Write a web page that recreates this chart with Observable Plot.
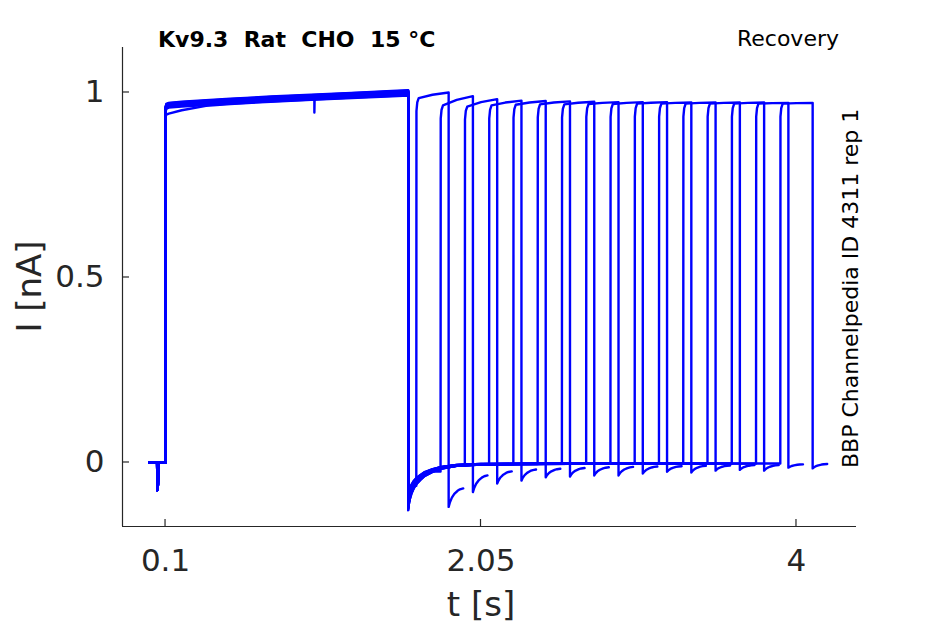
<!DOCTYPE html>
<html>
<head>
<meta charset="utf-8">
<script src="https://cdn.jsdelivr.net/npm/d3@7"></script>
<script src="https://cdn.jsdelivr.net/npm/@observablehq/plot@0.6"></script>
<style>
  html, body { margin: 0; padding: 0; background: #fff; }
  svg { display: block; }
</style>
</head>
<body>
<div id="chart"></div>
<script>
// ---- tick labels ----
const xTicks = [0.1, 2.05, 4];
const xTickLabels = ["0.1", "2.05", "4"];
const yTicks = [0, 0.5, 1];
const yTickLabels = ["0", "0.5", "1"];
const xDomain = [-0.166, 4.371];
const yDomain = [-0.173, 1.1216];

// ---- shared pre-pulse baseline (s, nA) ----
const baseT = [0, 0.048, 0.05, 0.053, 0.056, 0.1];
const baseI = [0, 0, -0.075, -0.06, 0, 0];

// ---- first (conditioning) pulse, 0.1 s to 1.6 s ----
const p1T = [0.1, 0.1, 0.101, 0.105, 0.12, 0.2, 0.35, 0.5, 0.75, 1.0, 1.25, 1.5, 1.6];
const p1I = [0.0, 0.93, 0.955, 0.962, 0.965, 0.968, 0.972, 0.976, 0.982, 0.987, 0.992, 0.997, 0.999];
const p1Offset = [0.006, -0.004, 0.003, 0, -0.006, 0.002, -0.001, 0.007, -0.003, 0.001, 0.004, -0.007, 0, 0.002, -0.002, 0.005];
// one sweep starts lower and joins the others by ~0.3 s
const lowSweep = 11;
const lowT = [0.101, 0.105, 0.12, 0.2, 0.35];
const lowI = [0.935, 0.94, 0.943, 0.952, 0.964];
const p1End = 1.6;
const glitchSweep = 3, glitchT = 1.02, glitchI = 0.946;

// ---- tail after first pulse (dt after 1.6 s) ----
const tail1Dt = [0, 0.004, 0.01, 0.02, 0.035, 0.05, 0.075, 0.1, 0.15, 0.2, 0.3, 0.45, 0.7, 1.0, 2.5];
const tail1I  = [-0.112, -0.098, -0.086, -0.073, -0.06, -0.051, -0.041, -0.032, -0.022, -0.015, -0.008, -0.005, -0.004, -0.003, -0.003];
const tail1Scale = [1.05, 1.1, 0.9, 1.15, 0.85, 1.05, 0.95, 1.1, 0.82, 1.0, 1.1, 0.9, 1.15, 0.85, 1.0, 0.95];

// ---- second (test) pulse per sweep ----
const pulse2Start = [1.65, 1.80, 1.95, 2.10, 2.25, 2.40, 2.55, 2.70, 2.85, 3.00, 3.15, 3.30, 3.45, 3.60, 3.75, 3.90];
const pulse2End   = [1.85, 2.00, 2.15, 2.30, 2.45, 2.60, 2.75, 2.90, 3.05, 3.20, 3.35, 3.50, 3.65, 3.80, 3.95, 4.10];
const pulse2Peak  = [0.985, 0.965, 0.962, 0.965, 0.967, 0.968, 0.968, 0.969, 0.969, 0.970, 0.970, 0.970, 0.970, 0.970, 0.970, 0.970];
const pulse2Final = [1.000, 0.990, 0.982, 0.978, 0.977, 0.976, 0.975, 0.974, 0.974, 0.974, 0.973, 0.973, 0.973, 0.973, 0.972, 0.972];
const p2Dt   = [0.001, 0.006, 0.015, 0.1, 0.2];
const p2Lag  = [-0.035, -0.012, 0, 0, 0];
const p2Frac = [0, 0, 0, 0.6, 1];

// ---- tail after second pulse ----
const tail2Min = [-0.12, -0.08, -0.057, -0.049, -0.04, -0.038, -0.035, -0.035, -0.03, -0.025, -0.027, -0.022, -0.02, -0.022, -0.014, -0.016];
const tail2End = [-0.07, -0.035, -0.024, -0.019, -0.017, -0.015, -0.013, -0.012, -0.011, -0.010, -0.009, -0.008, -0.007, -0.007, -0.005, -0.004];
const tail2Dt   = [0, 0.008, 0.02, 0.035, 0.055, 0.07, 0.09];
const tail2Prog = [0, 0.25, 0.5, 0.7, 0.87, 0.95, 1.0];

// ---- build the table of samples ----
const rows = [];
pulse2Start.forEach((s2, k) => {
  const push = (t, I) => rows.push({sweep: k, t, I});
  baseT.forEach((t, i) => push(t, baseI[i]));
  p1T.forEach((t, i) => {
    if (k === glitchSweep && t > glitchT && rows[rows.length - 1].t < glitchT) {
      push(glitchT, p1I[i - 1] + p1Offset[k] + 0.005);
      push(glitchT, glitchI);
      push(glitchT + 0.002, p1I[i - 1] + p1Offset[k] + 0.005);
    }
    const li = lowT.indexOf(t);
    if (k === lowSweep && li >= 0) push(t, lowI[li]);
    else push(t, i === 0 ? p1I[i] : p1I[i] + p1Offset[k]);
  });
  let last = 0;
  tail1Dt.forEach((dt, i) => {
    if (p1End + dt < s2) { last = tail1I[i] * tail1Scale[k]; push(p1End + dt, last); }
  });
  push(s2, last);
  const e2 = pulse2End[k];
  p2Dt.forEach((dt, i) => push(s2 + dt, pulse2Peak[k] + p2Lag[i] + p2Frac[i] * (pulse2Final[k] - pulse2Peak[k])));
  tail2Dt.forEach((dt, i) => push(e2 + dt, tail2Min[k] + tail2Prog[i] * (tail2End[k] - tail2Min[k])));
});

const axisColor = "#262626";
const font = "DejaVu Sans";

const plot = Plot.plot({
  width: 945,
  height: 624,
  marginLeft: 122,
  marginRight: 89,
  marginTop: 47,
  marginBottom: 98,
  style: {fontFamily: font, background: "#fff", overflow: "visible"},
  x: {domain: xDomain},
  y: {domain: yDomain},
  marks: [
    Plot.line(rows, {x: "t", y: "I", z: "sweep", stroke: "#0000ff", strokeWidth: 2.4, curve: "linear"}),
    Plot.ruleY([yDomain[0]], {stroke: axisColor, strokeWidth: 1.2}),
    Plot.ruleX([xDomain[0]], {stroke: axisColor, strokeWidth: 1.2}),
    Plot.axisX({ticks: xTicks, tickFormat: (d, i) => xTickLabels[i], tickSize: 0, tickPadding: 22, fontSize: 31, fill: axisColor, label: null}),
    Plot.axisY({ticks: yTicks, tickFormat: (d, i) => yTickLabels[i], tickSize: 0, tickPadding: 18, fontSize: 31, fill: axisColor, label: null})
  ]
});

document.getElementById("chart").appendChild(plot);

// inward ticks, titles and axis labels
const sx = plot.scale("x"), sy = plot.scale("y");
const svg = d3.select(plot);
const g = svg.append("g").attr("stroke", axisColor).attr("stroke-width", 1.2);
const x0 = sx.apply(xDomain[0]), y0 = sy.apply(yDomain[0]);
xTicks.forEach(t => g.append("line").attr("x1", sx.apply(t)).attr("x2", sx.apply(t)).attr("y1", y0).attr("y2", y0 - 7));
yTicks.forEach(v => g.append("line").attr("x1", x0).attr("x2", x0 + 7).attr("y1", sy.apply(v)).attr("y2", sy.apply(v)));

const txt = svg.append("g").attr("font-family", font).attr("fill", "#000").attr("text-anchor", "start");
txt.append("text").attr("x", 158).attr("y", 47).attr("font-size", 22).attr("font-weight", "bold")
  .attr("text-anchor", "start").style("white-space", "pre").text("Kv9.3  Rat  CHO  15 °C");
txt.append("text").attr("x", 839).attr("y", 46).attr("font-size", 22).attr("text-anchor", "end").text("Recovery");
txt.append("text").attr("transform", "translate(858,468) rotate(-90)").attr("font-size", 22)
  .attr("text-anchor", "start").text("BBP Channelpedia ID 4311 rep 1");
txt.append("text").attr("transform", `translate(41,${(sy.apply(yDomain[0]) + sy.apply(yDomain[1])) / 2}) rotate(-90)`)
  .attr("font-size", 34).attr("text-anchor", "middle").attr("fill", axisColor).text("I [nA]");
txt.append("text").attr("x", 481).attr("y", 616).attr("font-size", 34).attr("text-anchor", "middle").attr("fill", axisColor).text("t [s]");
</script>
</body>
</html>
